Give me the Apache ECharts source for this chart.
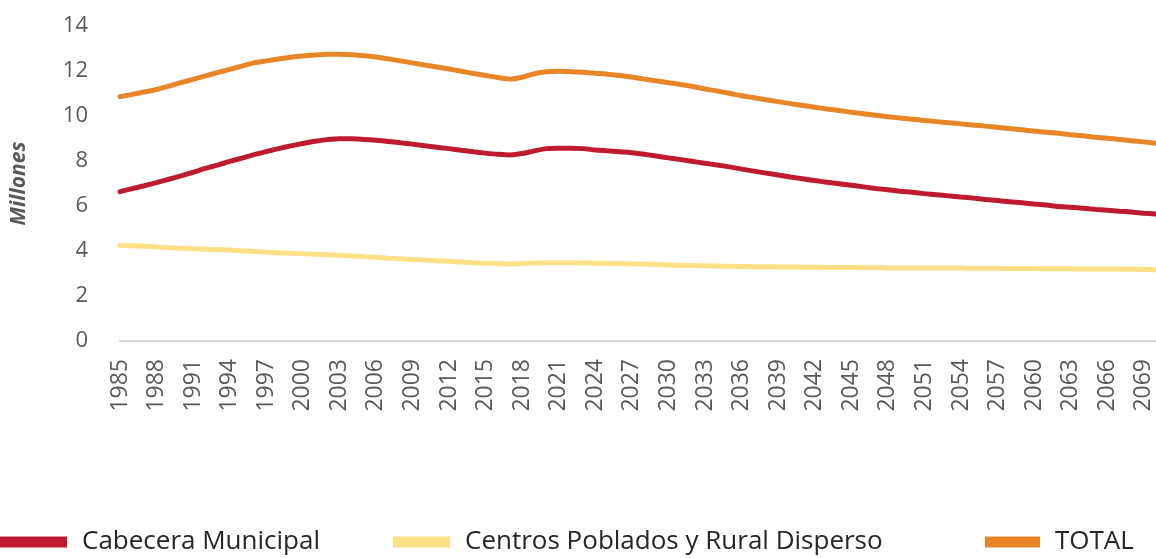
<!DOCTYPE html>
<html>
<head>
<meta charset="utf-8">
<script src="https://cdn.jsdelivr.net/npm/echarts@6.0.0/dist/echarts.min.js"></script>
<style>
  html, body { margin: 0; padding: 0; background: #fff; }
  #main { width: 1156px; height: 558px; }
</style>
</head>
<body>
<div id="main"></div>
<script>
var years = ['1985','1986','1987','1988','1989','1990','1991','1992','1993','1994',
  '1995','1996','1997','1998','1999','2000','2001','2002','2003','2004',
  '2005','2006','2007','2008','2009','2010','2011','2012','2013','2014',
  '2015','2016','2017','2018','2019','2020','2021','2022','2023','2024',
  '2025','2026','2027','2028','2029','2030','2031','2032','2033','2034',
  '2035','2036','2037','2038','2039','2040','2041','2042','2043','2044',
  '2045','2046','2047','2048','2049','2050','2051','2052','2053','2054',
  '2055','2056','2057','2058','2059','2060','2061','2062','2063','2064',
  '2065','2066','2067','2068','2069','2070'];

// millones de personas
var cabecera = [6.64, 6.77, 6.90, 7.04, 7.19, 7.34, 7.50, 7.67, 7.82, 7.98,
  8.13, 8.28, 8.42, 8.55, 8.67, 8.78, 8.88, 8.95, 8.99, 8.99,
  8.96, 8.92, 8.87, 8.81, 8.75, 8.68, 8.61, 8.55, 8.48, 8.41,
  8.35, 8.30, 8.27, 8.33, 8.45, 8.55, 8.57, 8.57, 8.55, 8.49,
  8.45, 8.41, 8.37, 8.30, 8.22, 8.14, 8.06, 7.98, 7.90, 7.82,
  7.74, 7.64, 7.55, 7.46, 7.38, 7.29, 7.21, 7.13, 7.06, 6.99,
  6.92, 6.85, 6.78, 6.72, 6.66, 6.61, 6.55, 6.50, 6.45, 6.40,
  6.35, 6.29, 6.24, 6.19, 6.14, 6.09, 6.04, 5.98, 5.94, 5.90,
  5.85, 5.81, 5.77, 5.73, 5.68, 5.64];

var rural = [4.24, 4.23, 4.21, 4.18, 4.15, 4.12, 4.10, 4.08, 4.06, 4.04,
  4.01, 3.98, 3.95, 3.92, 3.90, 3.88, 3.86, 3.83, 3.81, 3.78,
  3.75, 3.72, 3.68, 3.65, 3.62, 3.60, 3.57, 3.54, 3.51, 3.48,
  3.46, 3.44, 3.42, 3.45, 3.47, 3.48, 3.48, 3.48, 3.47, 3.46,
  3.45, 3.44, 3.43, 3.42, 3.40, 3.38, 3.36, 3.35, 3.34, 3.33,
  3.32, 3.31, 3.30, 3.30, 3.29, 3.29, 3.28, 3.28, 3.27, 3.27,
  3.27, 3.26, 3.26, 3.25, 3.25, 3.25, 3.24, 3.24, 3.24, 3.24,
  3.23, 3.23, 3.23, 3.22, 3.22, 3.22, 3.21, 3.21, 3.21, 3.20,
  3.20, 3.20, 3.19, 3.19, 3.18, 3.17];

var total = [10.86, 10.96, 11.07, 11.18, 11.33, 11.48, 11.63, 11.78, 11.93, 12.07,
  12.22, 12.36, 12.45, 12.53, 12.61, 12.67, 12.71, 12.74, 12.75, 12.72,
  12.68, 12.62, 12.54, 12.45, 12.36, 12.27, 12.18, 12.09, 11.99, 11.89,
  11.80, 11.71, 11.64, 11.72, 11.88, 11.97, 11.99, 11.97, 11.94, 11.90,
  11.86, 11.80, 11.73, 11.64, 11.56, 11.48, 11.40, 11.31, 11.20, 11.11,
  11.01, 10.90, 10.81, 10.72, 10.64, 10.55, 10.47, 10.39, 10.31, 10.24,
  10.17, 10.10, 10.03, 9.97, 9.91, 9.86, 9.80, 9.75, 9.70, 9.65,
  9.60, 9.55, 9.50, 9.44, 9.39, 9.33, 9.28, 9.23, 9.17, 9.12,
  9.06, 9.01, 8.96, 8.90, 8.85, 8.79];

var names = ['Cabecera Municipal', 'Centros Poblados y Rural Disperso', 'TOTAL'];
var colors = ['#BE1B31', '#FEE086', '#E88527'];

var myChart = echarts.init(document.getElementById('main'));

var legendText = {
    fontFamily: 'Open Sans',
    fontSize: 26,
    color: '#262626',
    padding: [0, 0, 0, 10]
};

var option = {
    animation: false,
    color: colors,
    textStyle: { fontFamily: 'Open Sans' },
    grid: {
        left: 120,
        right: -4,
        top: 26,
        bottom: 217
    },
    legend: [
        { data: [names[0]], left: 0, top: 529, padding: 0, icon: 'rect', itemWidth: 67, itemHeight: 11, textStyle: legendText },
        { data: [names[1]], left: 393, top: 529, padding: 0, icon: 'rect', itemWidth: 57, itemHeight: 11, textStyle: legendText },
        { data: [names[2]], left: 985, top: 529, padding: 0, icon: 'rect', itemWidth: 55, itemHeight: 11, textStyle: legendText }
    ],
    xAxis: {
        type: 'category',
        data: years,
        boundaryGap: false,
        axisLine: { lineStyle: { color: '#d9d9d9', width: 2 } },
        axisTick: { show: false },
        axisLabel: {
            interval: 2,
            rotate: 90,
            margin: 18,
            fontSize: 23,
            color: '#595959'
        }
    },
    yAxis: {
        type: 'value',
        min: 0,
        max: 14,
        interval: 2,
        name: 'Millones',
        nameLocation: 'middle',
        nameRotate: 90,
        nameGap: 90,
        nameTextStyle: {
            fontSize: 21,
            fontWeight: 'bold',
            fontStyle: 'italic',
            color: '#595959'
        },
        axisLine: { show: false },
        axisTick: { show: false },
        splitLine: { show: false },
        axisLabel: {
            margin: 32,
            fontSize: 22,
            color: '#595959'
        }
    },
    series: [
        {
            name: names[0],
            type: 'line',
            data: cabecera,
            smooth: 0.3,
            symbol: 'none',
            lineStyle: { width: 5, cap: 'round' }
        },
        {
            name: names[1],
            type: 'line',
            data: rural,
            smooth: 0.3,
            symbol: 'none',
            lineStyle: { width: 5, cap: 'round' }
        },
        {
            name: names[2],
            type: 'line',
            data: total,
            smooth: 0.3,
            symbol: 'none',
            lineStyle: { width: 5, cap: 'round' }
        }
    ]
};

myChart.setOption(option);
</script>
</body>
</html>
